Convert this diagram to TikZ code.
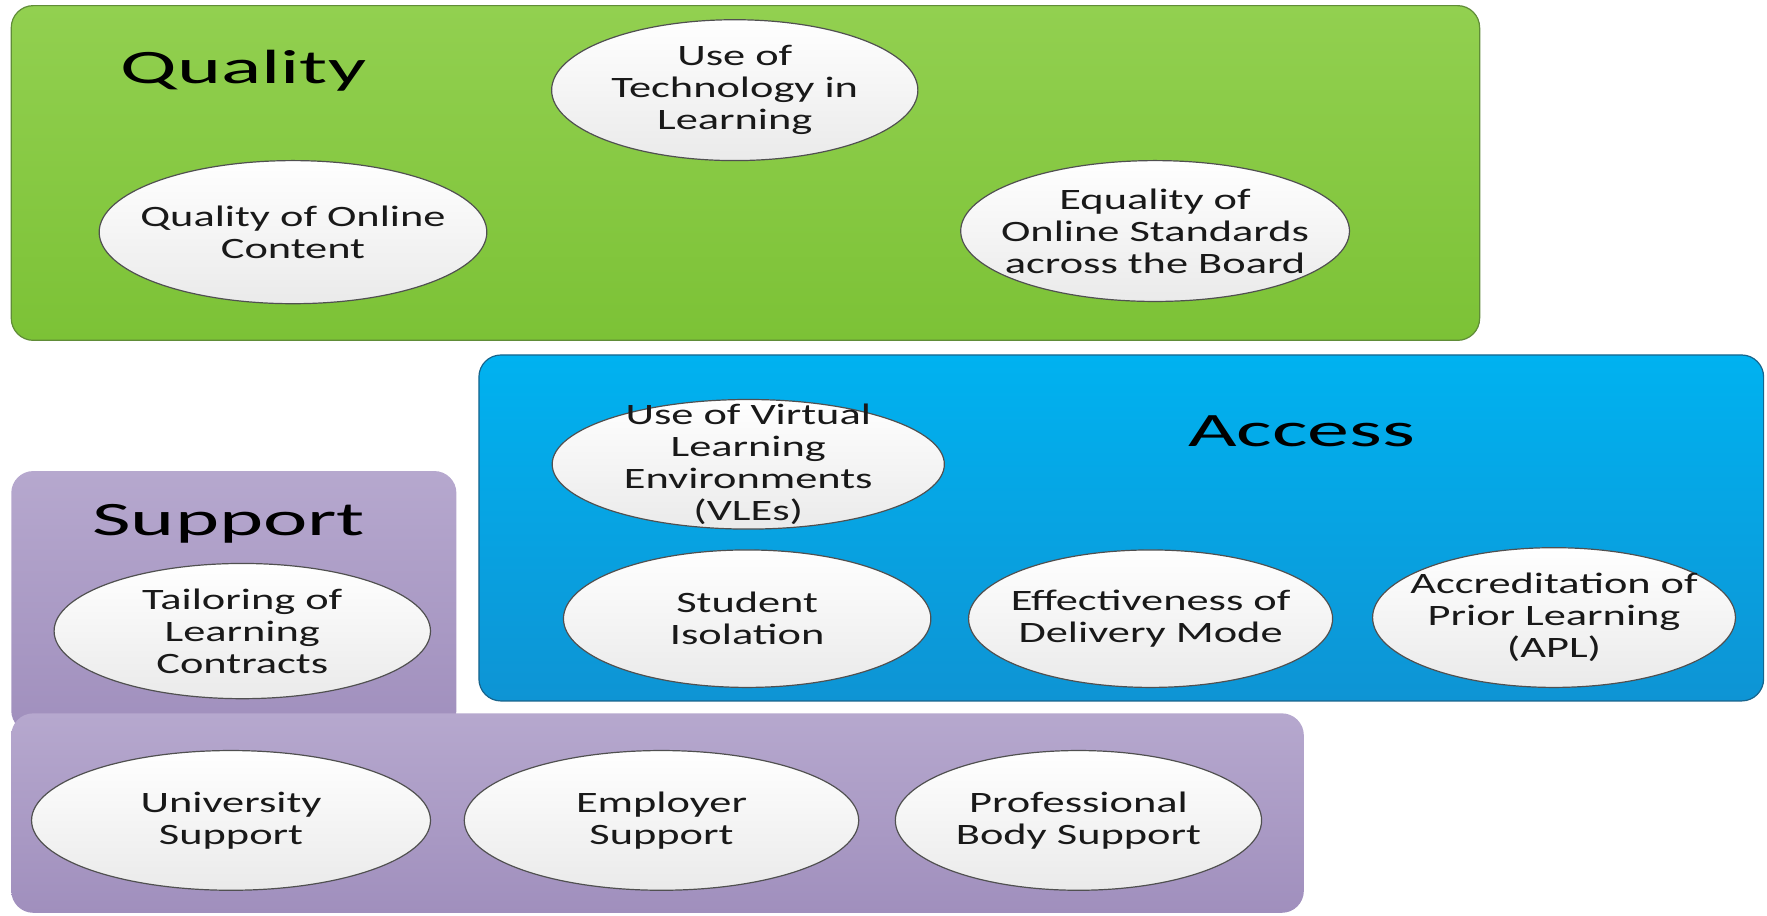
\documentclass[tikz,border=0pt]{standalone}
\usepackage{fontspec}
\setmainfont{Carlito}[FakeStretch=1.75]
\newfontfamily\ellfont{Carlito}[FakeStretch=1.5]
\usetikzlibrary{shapes.geometric}
\newlength\unitpx
\setlength\unitpx{0.5635pt}
\definecolor{gtop}{RGB}{146,208,80}
\definecolor{gbot}{RGB}{124,194,54}
\definecolor{gline}{RGB}{96,140,56}
\definecolor{btop}{RGB}{0,178,240}
\definecolor{bbot}{RGB}{14,148,212}
\definecolor{bline}{RGB}{24,100,140}
\definecolor{ptop}{RGB}{182,168,206}
\definecolor{pbot}{RGB}{160,143,189}
\definecolor{ebot}{RGB}{234,234,234}
\definecolor{eline}{RGB}{80,80,80}
\definecolor{txt}{RGB}{25,25,25}
\newcommand\ellnode[6]{%
  \node[ell, minimum width=#4\unitpx, minimum height=#5\unitpx] (#1) at (#2,#3) {};
  \node[elltext] (#1-t) at (#1.center) {#6};}
\begin{document}
\begin{tikzpicture}[x=0.5635pt,y=-0.5635pt,
  panel/.style={rounded corners=11pt},
  ell/.style={ellipse, draw=eline, line width=0.6pt, top color=white, bottom color=ebot, inner sep=0pt},
  elltext/.style={align=center, font=\ellfont\fontsize{14.8}{16}\selectfont, text=txt, inner sep=0pt},
  title/.style={font=\fontsize{24}{28}\selectfont, text=black, inner sep=0pt, anchor=base}]
\useasboundingbox (0,0) rectangle (1568,812);
% Quality panel
\path[panel, top color=gtop, bottom color=gbot, draw=gline, line width=0.6pt] (10,5) rectangle (1313,302);
\node[title] (qtitle) at (216,74) {Quality};
\ellnode{q1}{652}{80}{325}{125}{Use of\\Technology in\\Learning}
\ellnode{q2}{260}{206}{344}{127}{Quality of Online\\Content}
\ellnode{q3}{1025}{205}{345}{125}{Equality of\\Online Standards\\across the Board}
% Access panel
\path[panel, top color=btop, bottom color=bbot, draw=bline, line width=0.6pt] (425,315) rectangle (1565,622);
\node[title] (atitle) at (1155,396) {Access};
\ellnode{a1}{664}{412}{348}{115}{Use of Virtual\\Learning\\Environments\\(VLEs)}
\ellnode{a2}{663}{549}{326}{122}{Student\\Isolation}
\ellnode{a3}{1021}{549}{323}{122}{Effectiveness of\\Delivery Mode}
\ellnode{a4}{1379}{548}{322}{124}{Accreditation of\\Prior Learning\\(APL)}
% Support panels
\path[panel, top color=ptop, bottom color=pbot] (10,418) rectangle (405,650);
\path[panel, top color=ptop, bottom color=pbot] (10,633) rectangle (1157,810);
\node[title] (stitle) at (203,475) {Support};
\ellnode{s1}{215}{560}{334}{120}{Tailoring of\\Learning\\Contracts}
\ellnode{s2}{205}{728}{354}{124}{University\\Support}
\ellnode{s3}{587}{728}{350}{124}{Employer\\Support}
\ellnode{s4}{957}{728}{325}{124}{Professional\\Body Support}
\end{tikzpicture}
\end{document}
